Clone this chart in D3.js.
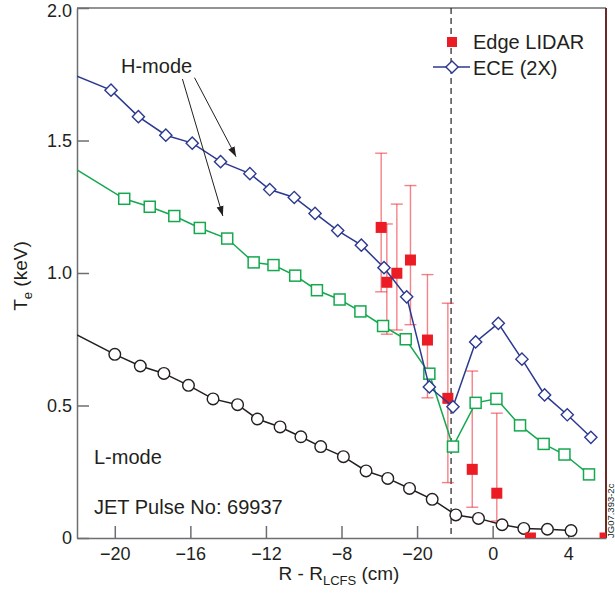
<!DOCTYPE html>
<html>
<head>
<meta charset="utf-8">
<script src="https://cdn.jsdelivr.net/npm/d3@7"></script>
<style>
  body { margin: 0; background: #fff; }
  svg text { font-family: "Liberation Sans", Arial, Helvetica, sans-serif; fill: #231f20; }
  .axis path, .axis line { stroke: #6d6e71; stroke-width: 1.5px; }
</style>
</head>
<body>
<svg id="chart"></svg>
<script>
// ECE (2X), H-mode: [R - R_LCFS (cm), Te (keV)]; first point is where the line enters the frame
const eceLine = [[-22, 1.743]];
const ece = [
  [-20.2, 1.69], [-18.75, 1.59], [-17.3, 1.52], [-15.9, 1.49], [-14.4, 1.42],
  [-12.85, 1.375], [-11.8, 1.315], [-10.5, 1.285], [-9.4, 1.225], [-8.2, 1.16],
  [-6.95, 1.105], [-5.75, 1.02], [-4.55, 0.91], [-3.35, 0.57], [-2.1, 0.495],
  [-0.9, 0.74], [0.3, 0.81], [1.55, 0.675], [2.75, 0.54], [3.95, 0.465], [5.2, 0.38]
];

// second H-mode profile (green squares)
const hmodeLine = [[-22, 1.389]];
const hmode = [
  [-19.5, 1.28], [-18.15, 1.25], [-16.85, 1.215], [-15.5, 1.17], [-14.05, 1.13],
  [-12.65, 1.04], [-11.6, 1.03], [-10.45, 0.99], [-9.3, 0.935], [-8.1, 0.9],
  [-7.0, 0.855], [-5.8, 0.8], [-4.6, 0.75], [-3.35, 0.62], [-2.1, 0.345],
  [-0.9, 0.51], [0.2, 0.525], [1.45, 0.425], [2.7, 0.355], [3.8, 0.315], [5.1, 0.24]
];

// L-mode profile (open circles)
const lmodeLine = [[-22, 0.766]];
const lmode = [
  [-20.0, 0.693], [-18.65, 0.649], [-17.4, 0.621], [-16.1, 0.576], [-14.8, 0.525],
  [-13.5, 0.503], [-12.45, 0.449], [-11.25, 0.419], [-10.15, 0.382], [-9.1, 0.345],
  [-7.9, 0.307], [-6.7, 0.253], [-5.55, 0.225], [-4.4, 0.187], [-3.2, 0.146],
  [-1.95, 0.087], [-0.75, 0.074], [0.5, 0.05], [1.65, 0.036], [2.9, 0.033], [4.15, 0.028]
];

// Edge LIDAR: [x, Te, lower, upper]
const lidar = [
  [-5.9, 1.172, 0.929, 1.452], [-5.6, 0.965, 0.769, 1.185], [-5.07, 0.999, 0.785, 1.26],
  [-4.35, 1.049, 0.805, 1.33], [-3.45, 0.747, 0.529, 0.994], [-2.37, 0.527, 0.209, 0.886],
  [-1.08, 0.259, 0.116, 0.63], [0.22, 0.169, 0.064, 0.471], [2.0, 0.0, null, null],
  [5.95, 0.0, null, null]
];

const separatrix = -2.2;
const xTickValues = [-20, -16, -12, -8, -4, 0, 4];
const xTickLabels = ["\u221220", "\u221216", "\u221212", "\u22128", "\u221220", "0", "4"];
const yTickValues = [0, 0.5, 1.0, 1.5, 2.0];
const yTickLabels = ["0", "0.5", "1.0", "1.5", "2.0"];

const W = 615, H = 599;
const plot = { left: 77, right: 606, top: 8, bottom: 538 };

const blue = "#2b3990", green = "#14a84f", red = "#ec1c24", ink = "#231f20";

const svg = d3.select("#chart").attr("width", W).attr("height", H);

const x = d3.scaleLinear().domain([-22, 6]).range([plot.left, plot.right]);
const y = d3.scaleLinear().domain([0, 2]).range([plot.bottom, plot.top]);

svg.append("defs").append("clipPath").attr("id", "clip")
  .append("rect")
  .attr("x", plot.left).attr("y", plot.top)
  .attr("width", plot.right - plot.left).attr("height", plot.bottom - plot.top);

// frame: top grey, right dark red
svg.append("line")
  .attr("x1", plot.left).attr("x2", plot.right)
  .attr("y1", plot.top).attr("y2", plot.top)
  .attr("stroke", "#6d6e71").attr("stroke-width", 1.5);
svg.append("line")
  .attr("x1", plot.right).attr("x2", plot.right)
  .attr("y1", plot.top).attr("y2", plot.bottom)
  .attr("stroke", "#6b2a26").attr("stroke-width", 2);

// axes with inward ticks
const xAxis = d3.axisBottom(x)
  .tickValues(xTickValues)
  .tickFormat((d, i) => xTickLabels[i])
  .tickSizeInner(-12).tickSizeOuter(0).tickPadding(9);
const yAxis = d3.axisLeft(y)
  .tickValues(yTickValues)
  .tickFormat((d, i) => yTickLabels[i])
  .tickSizeInner(-12).tickSizeOuter(0).tickPadding(5);

const xAxisG = svg.append("g").attr("class", "axis")
  .attr("transform", `translate(0,${plot.bottom})`).call(xAxis);
const yAxisG = svg.append("g").attr("class", "axis")
  .attr("transform", `translate(${plot.left},0)`).call(yAxis);
[xAxisG, yAxisG].forEach(g => g.selectAll("text")
  .attr("font-size", "18px").attr("fill", ink)
  .attr("font-family", "'Liberation Sans', Arial, sans-serif"));
// keep the top label inside the page
yAxisG.selectAll(".tick text").filter(d => d === 2).attr("dy", "0.48em");

// axis titles
const xt = svg.append("text")
  .attr("x", 339).attr("y", 580)
  .attr("text-anchor", "middle").attr("font-size", "19px");
xt.append("tspan").text("R - R");
xt.append("tspan").attr("font-size", "13px").attr("dy", 5).text("LCFS");
xt.append("tspan").attr("dy", -5).text(" (cm)");

const yt = svg.append("text")
  .attr("transform", "translate(27,276) rotate(-90)")
  .attr("text-anchor", "middle").attr("font-size", "19px");
yt.append("tspan").text("T");
yt.append("tspan").attr("font-size", "13px").attr("dy", 5).text("e");
yt.append("tspan").attr("dy", -5).text(" (keV)");

// separatrix
svg.append("line")
  .attr("x1", x(separatrix)).attr("x2", x(separatrix))
  .attr("y1", plot.top).attr("y2", plot.bottom)
  .attr("stroke", ink).attr("stroke-width", 1.2)
  .attr("stroke-dasharray", "6,4");

const chart = svg.append("g").attr("clip-path", "url(#clip)");

const line = d3.line().x(d => x(d[0])).y(d => y(d[1]));

// lidar error bars
const eb = lidar.filter(d => d[2] !== null);
const ebG = chart.append("g").attr("stroke", red).attr("stroke-opacity", 0.55).attr("stroke-width", 1.4);
ebG.selectAll(".eb").data(eb).enter().append("line")
  .attr("x1", d => x(d[0])).attr("x2", d => x(d[0]))
  .attr("y1", d => y(d[2])).attr("y2", d => y(d[3]));
ebG.selectAll(".capTop").data(eb).enter().append("line")
  .attr("x1", d => x(d[0]) - 6).attr("x2", d => x(d[0]) + 6)
  .attr("y1", d => y(d[3])).attr("y2", d => y(d[3]));
ebG.selectAll(".capBot").data(eb).enter().append("line")
  .attr("x1", d => x(d[0]) - 6).attr("x2", d => x(d[0]) + 6)
  .attr("y1", d => y(d[2])).attr("y2", d => y(d[2]));

// L-mode
chart.append("path").datum(lmodeLine.concat(lmode))
  .attr("d", line).attr("fill", "none").attr("stroke", ink).attr("stroke-width", 1.5);
chart.selectAll(".circ").data(lmode).enter().append("circle")
  .attr("cx", d => x(d[0])).attr("cy", d => y(d[1])).attr("r", 5.8)
  .attr("fill", "#fff").attr("stroke", ink).attr("stroke-width", 1.4);

// green H-mode
chart.append("path").datum(hmodeLine.concat(hmode))
  .attr("d", line).attr("fill", "none").attr("stroke", green).attr("stroke-width", 1.5);
chart.selectAll(".sq").data(hmode).enter().append("rect")
  .attr("x", d => x(d[0]) - 5.5).attr("y", d => y(d[1]) - 5.5)
  .attr("width", 11).attr("height", 11)
  .attr("fill", "#fff").attr("stroke", green).attr("stroke-width", 1.5);

// lidar points
chart.selectAll(".lid").data(lidar).enter().append("rect")
  .attr("x", d => x(d[0]) - 5.5).attr("y", d => y(d[1]) - 5.5)
  .attr("width", 11).attr("height", 11).attr("fill", red);

// ECE
const diamond = d3.symbol().type(d3.symbolDiamond2).size(95);
chart.append("path").datum(eceLine.concat(ece))
  .attr("d", line).attr("fill", "none").attr("stroke", blue).attr("stroke-width", 1.5);
chart.selectAll(".dia").data(ece).enter().append("path")
  .attr("d", diamond)
  .attr("transform", d => `translate(${x(d[0])},${y(d[1])})`)
  .attr("fill", "#fff").attr("stroke", blue).attr("stroke-width", 1.4);

// legend
svg.append("rect").attr("x", 447).attr("y", 37).attr("width", 10).attr("height", 10).attr("fill", red);
svg.append("text").attr("x", 473).attr("y", 49).attr("font-size", "20px").text("Edge LIDAR");
svg.append("line").attr("x1", 433).attr("x2", 470).attr("y1", 67).attr("y2", 67)
  .attr("stroke", blue).attr("stroke-width", 1.5);
svg.append("path").attr("d", diamond).attr("transform", "translate(452,67)")
  .attr("fill", "#fff").attr("stroke", blue).attr("stroke-width", 1.4);
svg.append("text").attr("x", 473).attr("y", 75).attr("font-size", "20px").text("ECE (2X)");

// annotations
svg.append("text").attr("x", 121).attr("y", 73).attr("font-size", "20px").text("H-mode");
svg.append("text").attr("x", 94).attr("y", 464).attr("font-size", "20px").text("L-mode");
svg.append("text").attr("x", 94).attr("y", 514).attr("font-size", "20px").text("JET Pulse No: 69937");

svg.append("defs").append("marker")
  .attr("id", "arrow").attr("viewBox", "0 0 10 10")
  .attr("refX", 10).attr("refY", 5)
  .attr("markerWidth", 10).attr("markerHeight", 10)
  .attr("markerUnits", "userSpaceOnUse")
  .attr("orient", "auto")
  .append("path").attr("d", "M0,1.5 L10,5 L0,8.5 Z").attr("fill", ink);

const arrows = [
  [[-15.78, 1.737], [-13.58, 1.439]],
  [[-16.42, 1.732], [-14.28, 1.215]]
];
svg.selectAll(".arrow").data(arrows).enter().append("line")
  .attr("x1", d => x(d[0][0])).attr("y1", d => y(d[0][1]))
  .attr("x2", d => x(d[1][0])).attr("y2", d => y(d[1][1]))
  .attr("stroke", ink).attr("stroke-width", 1)
  .attr("marker-end", "url(#arrow)");

// figure id along the right edge
svg.append("text")
  .attr("transform", "translate(614,538) rotate(-90)")
  .attr("font-size", "9.5px").attr("fill", "#58595b")
  .text("JG07.393-2c");
</script>
</body>
</html>
